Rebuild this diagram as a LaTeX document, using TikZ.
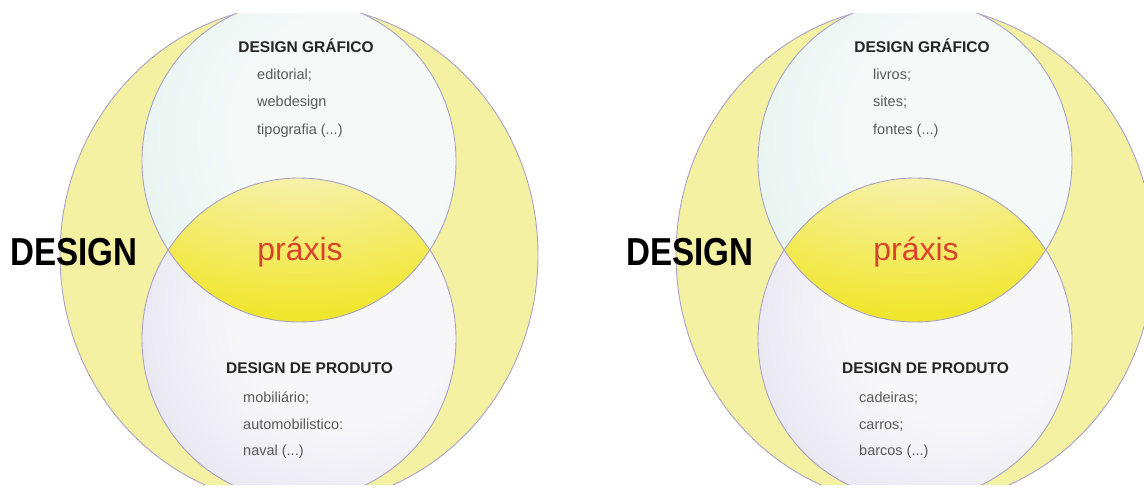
\documentclass[tikz,border=0pt]{standalone}
\usepackage{fontspec}
\setmainfont{Liberation Sans}
\definecolor{outline}{HTML}{A9A2C8}
\definecolor{bigfill}{HTML}{F5F1A3}
\definecolor{topin}{HTML}{F5FAF9}
\definecolor{topout}{HTML}{D8ECE6}
\definecolor{botin}{HTML}{F7F7FA}
\definecolor{botout}{HTML}{D6D3E8}
\definecolor{lenstop}{HTML}{F7F4C4}
\definecolor{lensbot}{HTML}{F1E62E}
\definecolor{praxisred}{HTML}{D8432C}
\definecolor{headtext}{HTML}{252525}
\definecolor{itemtext}{HTML}{595959}
\pgfdeclareradialshading{topshade}{\pgfpoint{10bp}{6bp}}{color(0bp)=(topin); color(18bp)=(topin); color(52bp)=(topout); color(80bp)=(topout)}
\pgfdeclareradialshading{botshade}{\pgfpoint{10bp}{6bp}}{color(0bp)=(botin); color(18bp)=(botin); color(52bp)=(botout); color(80bp)=(botout)}
\pgfdeclareradialshading{lensshade}{\pgfpoint{0bp}{50bp}}{color(0bp)=(lenstop); color(10bp)=(lenstop); color(48bp)=(lensbot); color(100bp)=(lensbot)}
\tikzset{
  bigcirc/.style={fill=bigfill, draw=outline, line width=0.9pt},
  ring/.style={draw=outline, line width=0.9pt},
  heading/.style={font=\fontsize{15.5}{18}\selectfont\bfseries, text=headtext, inner sep=0pt},
  item/.style={font=\fontsize{14.5}{17}\selectfont, text=itemtext, inner sep=0pt, anchor=base west},
  praxis/.style={font=\fontsize{32}{36}\selectfont, text=praxisred, inner sep=0pt, anchor=base},
  bigword/.style={font=\fontsize{39}{44}\selectfont\bfseries, text=black, inner sep=0pt, anchor=base west}
}
\begin{document}
\begin{tikzpicture}[x=1pt, y=-1pt]
\useasboundingbox[fill=white] (0,0) rectangle (1144,488);
\begin{scope}
\clip (0,13) rectangle (1144,484);
\foreach \cx in {299,915} {
  \path[bigcirc] (\cx,255) ellipse[x radius=239pt, y radius=250pt];
  \shade[shading=topshade] (\cx,161) ellipse[x radius=157pt, y radius=161pt];
  \shade[shading=botshade] (\cx,339) ellipse[x radius=157pt, y radius=161pt];
  \begin{scope}
    \clip (\cx,161) ellipse[x radius=157pt, y radius=161pt];
    \clip (\cx,339) ellipse[x radius=157pt, y radius=161pt];
    \shade[shading=lensshade] (\cx-132,178) rectangle (\cx+132,322);
  \end{scope}
  \draw[ring] (\cx,161) ellipse[x radius=157pt, y radius=161pt];
  \draw[ring] (\cx,339) ellipse[x radius=157pt, y radius=161pt];
}
\end{scope}
% left diagram
\node[bigword] (Ldesign) at (10,265) {\scalebox{0.85}[1]{DESIGN}};
\node[praxis] (Lpraxis) at (300,260) {práxis};
\node[heading, anchor=base] (Lgraf) at (306,52.5) {DESIGN GRÁFICO};
\node[item] (Lg1) at (257,79) {editorial;};
\node[item] (Lg2) at (257,106) {webdesign};
\node[item] (Lg3) at (257,134) {tipografia (...)};
\node[heading, anchor=base] (Lprod) at (309.5,373.5) {DESIGN DE PRODUTO};
\node[item] (Lp1) at (243,402) {mobiliário;};
\node[item] (Lp2) at (243,429) {automobilistico:};
\node[item] (Lp3) at (243,455) {naval (...)};
% right diagram
\node[bigword] (Rdesign) at (626,265) {\scalebox{0.85}[1]{DESIGN}};
\node[praxis] (Rpraxis) at (916,260) {práxis};
\node[heading, anchor=base] (Rgraf) at (922,52.5) {DESIGN GRÁFICO};
\node[item] (Rg1) at (873,79) {livros;};
\node[item] (Rg2) at (873,106) {sites;};
\node[item] (Rg3) at (873,134) {fontes (...)};
\node[heading, anchor=base] (Rprod) at (925.5,373.5) {DESIGN DE PRODUTO};
\node[item] (Rp1) at (859,402) {cadeiras;};
\node[item] (Rp2) at (859,429) {carros;};
\node[item] (Rp3) at (859,455) {barcos (...)};
\end{tikzpicture}
\end{document}
